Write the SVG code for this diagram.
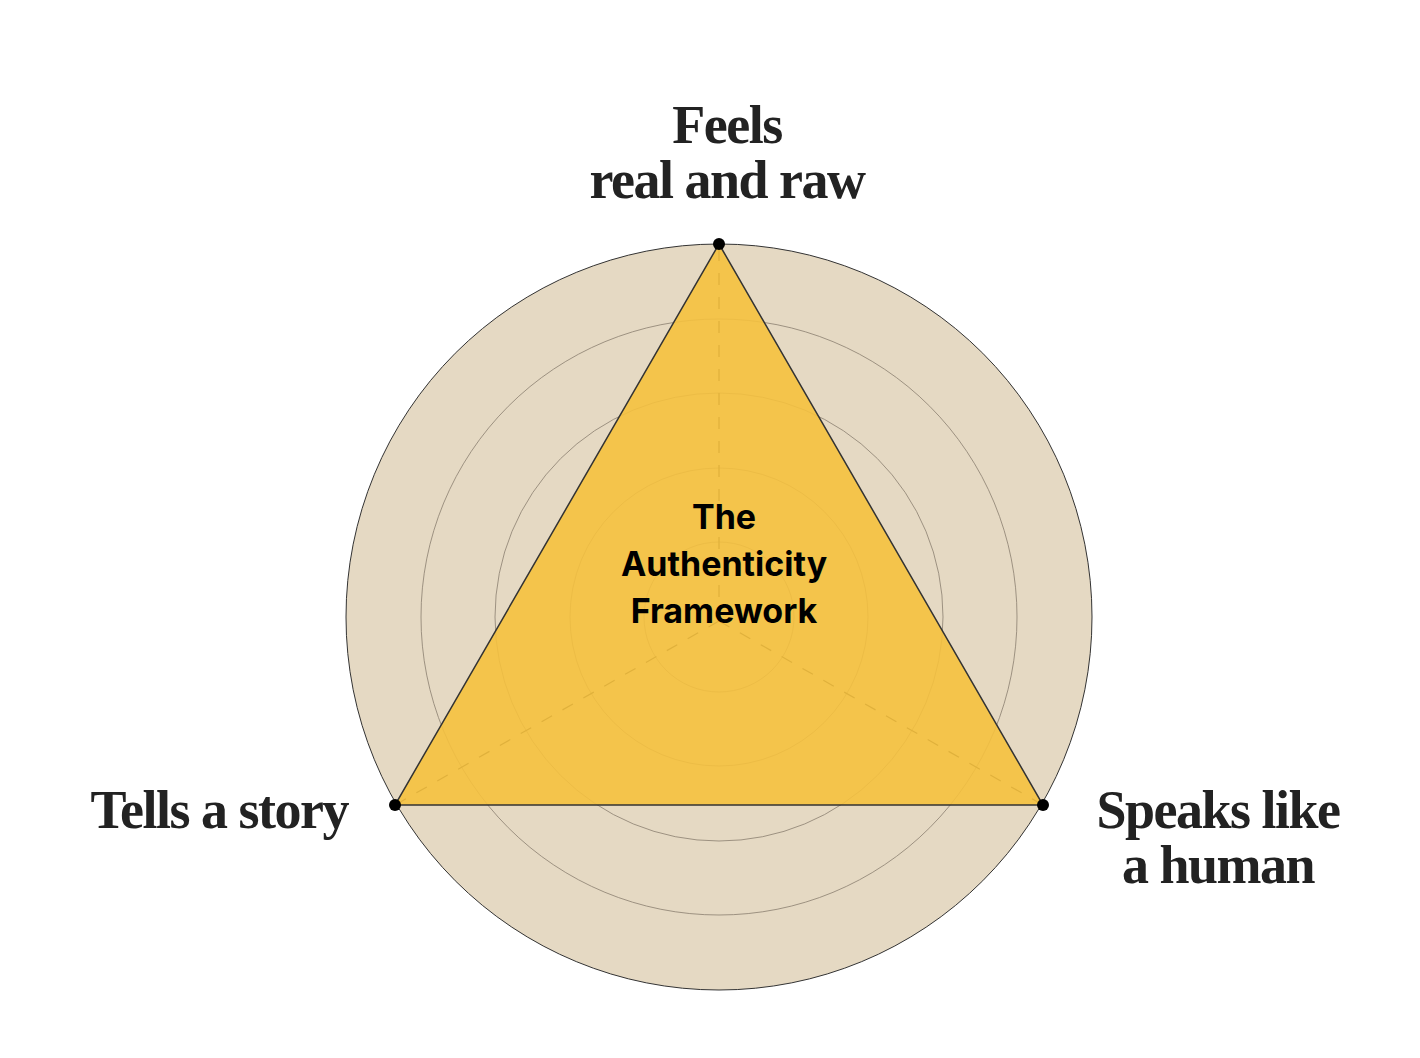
<svg xmlns="http://www.w3.org/2000/svg" width="1420" height="1058" viewBox="0 0 1420 1058">
<style>
.lbl{font-family:"Liberation Serif",serif;font-weight:bold;font-size:54px;fill:#222;letter-spacing:-1.5px}
.ctr{font-family:Inter,"Liberation Sans",sans-serif;font-weight:bold;font-size:34px;fill:#000}
.ring{fill:none;stroke:#8a7f70;stroke-width:0.8}
.dash{stroke:#222;stroke-width:1.2;stroke-dasharray:12 12}
</style>
<rect width="1420" height="1058" fill="#fff"/>
<g id="background">
<circle cx="719" cy="617" r="373" fill="#e5d9c3" stroke="#333" stroke-width="1"/>
<circle class="ring" cx="719" cy="617" r="298"/>
<circle class="ring" cx="719" cy="617" r="224"/>
<circle class="ring" cx="719" cy="617" r="149"/>
<circle class="ring" cx="719" cy="617" r="75"/>
</g>
<g id="connectors">
<line class="dash" x1="719" y1="621" x2="719" y2="244"/>
<line class="dash" x1="719" y1="621" x2="395" y2="805"/>
<line class="dash" x1="719" y1="621" x2="1043" y2="805"/>
</g>
<g id="triangle">
<polygon points="719,244 1043,805 395,805" fill="#f5c13e" fill-opacity="0.9" stroke="#333" stroke-width="1.5"/>
</g>
<g id="node-top">
<circle cx="719" cy="244" r="6" fill="#000"/>
<text class="lbl" x="727" y="143" text-anchor="middle">Feels</text>
<text class="lbl" x="727" y="198" text-anchor="middle">real and raw</text>
</g>
<g id="node-left">
<circle cx="395" cy="805" r="6" fill="#000"/>
<text class="lbl" x="348" y="828" text-anchor="end">Tells a story</text>
</g>
<g id="node-right">
<circle cx="1043" cy="805" r="6" fill="#000"/>
<text class="lbl" x="1218" y="828" text-anchor="middle">Speaks like</text>
<text class="lbl" x="1218" y="883" text-anchor="middle">a human</text>
</g>
<g id="center">
<text class="ctr" x="724" y="529" text-anchor="middle">The</text>
<text class="ctr" x="724" y="576" text-anchor="middle">Authenticity</text>
<text class="ctr" x="724" y="623" text-anchor="middle">Framework</text>
</g>
</svg>
